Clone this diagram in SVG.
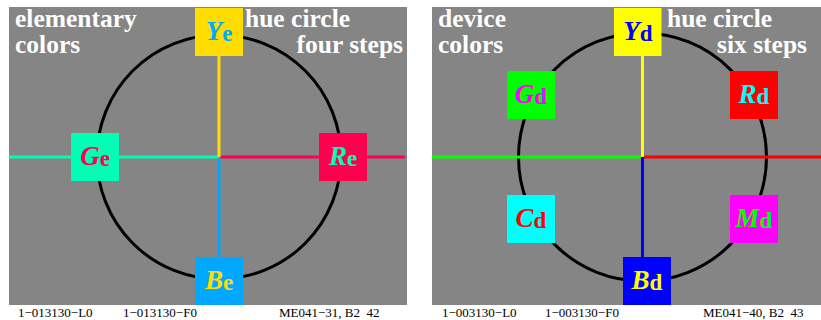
<svg xmlns="http://www.w3.org/2000/svg" width="821" height="320" viewBox="0 0 821 320">
<style>
.panel{fill:#858585}
.ring{fill:none;stroke:#000;stroke-width:3}
.ln{stroke-width:3;fill:none}
.hd{font-family:"Liberation Serif","Times New Roman",serif;font-weight:bold;font-size:25.5px;fill:#fff}
.ft{font-family:"Liberation Serif","Times New Roman",serif;font-size:13px;fill:#000}
.lb{font-family:"Liberation Serif","Times New Roman",serif;font-weight:bold;text-anchor:middle}
.big{font-style:italic;font-size:27px}
.sub{font-size:23px}
</style>
<rect width="821" height="320" fill="#fff"/>
<rect class="panel" x="9" y="7" width="398" height="298"/>
<rect class="panel" x="432" y="7" width="389" height="298"/>
<circle class="ring" cx="219" cy="157" r="122"/>
<circle class="ring" cx="642.5" cy="157" r="124"/>
<g id="connectors">
<line class="ln" x1="9" y1="157" x2="219" y2="157" stroke="#00ffb4"/>
<line class="ln" x1="219" y1="157" x2="405" y2="157" stroke="#ff0050"/>
<line class="ln" x1="219" y1="56" x2="219" y2="157" stroke="#ffdd00"/>
<line class="ln" x1="219" y1="157" x2="219" y2="257" stroke="#00a8ff"/>
<line class="ln" x1="432" y1="157" x2="642.5" y2="157" stroke="#00ff00"/>
<line class="ln" x1="642.5" y1="157" x2="821" y2="157" stroke="#ff0000"/>
<line class="ln" x1="642.5" y1="56" x2="642.5" y2="157" stroke="#ffff00"/>
<line class="ln" x1="642.5" y1="157" x2="642.5" y2="257" stroke="#0000ff"/>
</g>
<text class="hd" x="15" y="27">elementary</text>
<text class="hd" x="15" y="53">colors</text>
<text class="hd" x="245" y="27">hue circle</text>
<text class="hd" x="403" y="53" text-anchor="end">four steps</text>
<text class="hd" x="438" y="27">device</text>
<text class="hd" x="438" y="53">colors</text>
<text class="hd" x="667" y="27">hue circle</text>
<text class="hd" x="807" y="53" text-anchor="end">six steps</text>
<g id="Ye"><rect x="195" y="8" width="48" height="48" fill="#ffdd00"/><text class="lb" x="219" y="40" fill="#00a8ff"><tspan class="big">Y</tspan><tspan class="sub" dy="1">e</tspan></text></g>
<g id="Ge"><rect x="71" y="133" width="48" height="48" fill="#00ffb4"/><text class="lb" x="95" y="165" fill="#ff0050"><tspan class="big">G</tspan><tspan class="sub" dy="1">e</tspan></text></g>
<g id="Re"><rect x="319" y="133" width="48" height="48" fill="#ff0050"/><text class="lb" x="343" y="165" fill="#00ffb4"><tspan class="big">R</tspan><tspan class="sub" dy="1">e</tspan></text></g>
<g id="Be"><rect x="195" y="257" width="48" height="48" fill="#00a8ff"/><text class="lb" x="219" y="289" fill="#ffdd00"><tspan class="big">B</tspan><tspan class="sub" dy="1">e</tspan></text></g>
<g id="Yd"><rect x="614" y="8" width="47.5" height="48" fill="#ffff00"/><text class="lb" x="638" y="40" fill="#0000ff"><tspan class="big">Y</tspan><tspan class="sub" dy="1">d</tspan></text></g>
<g id="Gd"><rect x="507" y="71" width="48" height="48" fill="#00ff00"/><text class="lb" x="531" y="103" fill="#ff00ff"><tspan class="big">G</tspan><tspan class="sub" dy="1">d</tspan></text></g>
<g id="Rd"><rect x="730" y="71" width="48" height="48" fill="#ff0000"/><text class="lb" x="754" y="103" fill="#00ffff"><tspan class="big">R</tspan><tspan class="sub" dy="1">d</tspan></text></g>
<g id="Cd"><rect x="507" y="195" width="48" height="48" fill="#00ffff"/><text class="lb" x="531" y="227" fill="#ff0000"><tspan class="big">C</tspan><tspan class="sub" dy="1">d</tspan></text></g>
<g id="Md"><rect x="730" y="195" width="48" height="48" fill="#ff00ff"/><text class="lb" x="754" y="227" fill="#00ff00"><tspan class="big">M</tspan><tspan class="sub" dy="1">d</tspan></text></g>
<g id="Bd"><rect x="623" y="257" width="48" height="48" fill="#0000ff"/><text class="lb" x="647" y="289" fill="#ffff00"><tspan class="big">B</tspan><tspan class="sub" dy="1">d</tspan></text></g>
<text class="ft" x="18" y="317">1−013130−L0</text>
<text class="ft" x="123" y="317">1−013130−F0</text>
<text class="ft" x="279" y="317" xml:space="preserve">ME041−31, B2  42</text>
<text class="ft" x="442" y="317">1−003130−L0</text>
<text class="ft" x="545" y="317">1−003130−F0</text>
<text class="ft" x="703" y="317" xml:space="preserve">ME041−40, B2  43</text>
</svg>
